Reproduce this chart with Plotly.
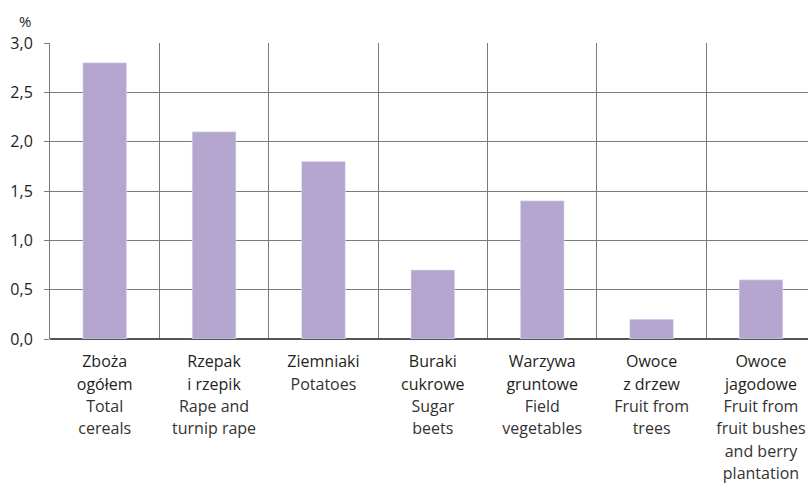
import plotly.graph_objects as go

categories_pl = ["Zboża<br>ogółem", "Rzepak<br>i rzepik", "Ziemniaki", "Buraki<br>cukrowe",
                 "Warzywa<br>gruntowe", "Owoce<br>z drzew", "Owoce<br>jagodowe"]
categories_en = ["Total<br>cereals", "Rape and<br>turnip rape", "Potatoes", "Sugar<br>beets",
                 "Field<br>vegetables", "Fruit from<br>trees", "Fruit from<br>fruit bushes<br>and berry<br>plantation"]
values = [2.8, 2.1, 1.8, 0.7, 1.4, 0.2, 0.6]
y_ticks = [0.0, 0.5, 1.0, 1.5, 2.0, 2.5, 3.0]

x = list(range(len(values)))

def wrap(txt, color):
    return "<br>".join(f"<span style='font-size:16px;color:{color}'>{l}</span>" for l in txt.split("<br>"))

ticktext = [wrap(p, "#231f20") + "<br>" + wrap(e, "#333333") for p, e in zip(categories_pl, categories_en)]

fig = go.Figure(go.Bar(x=x, y=values, marker_color="#b5a6d0", width=0.4))

grid = "#7a7a7a"
FONT = "Open Sans"
fig.update_layout(
    width=808, height=487,
    margin=dict(l=50, r=0, t=43, b=148, autoexpand=False),
    paper_bgcolor="white", plot_bgcolor="white",
    separators=",.",
    font=dict(family=FONT, color="#231f20"),
    showlegend=False,
    annotations=[dict(text="%", xref="paper", yref="paper", x=-0.044, y=1.035,
                      xanchor="left", yanchor="bottom", showarrow=False,
                      font=dict(size=15, family=FONT, color="#231f20"))],
)
fig.update_xaxes(
    range=[-0.5, 6.43], tickmode="array", tickvals=x, ticktext=ticktext,
    tickfont=dict(size=17.2, family=FONT), showgrid=False, ticks="",
    showline=False, zeroline=False, automargin=False, ticklabelstandoff=10,
    minor=dict(tick0=0.5, dtick=1, showgrid=True, gridcolor=grid, gridwidth=1),
)
fig.update_yaxes(
    range=[0, 3], tickmode="array", tickvals=y_ticks, tickformat=".1f",
    tickfont=dict(size=16, family=FONT, color="#231f20"),
    showgrid=True, gridcolor=grid, gridwidth=1, automargin=False,
    ticks="outside", ticklen=5, tickcolor=grid, ticklabelstandoff=8,
    showline=True, linecolor=grid, linewidth=1, zeroline=True, zerolinecolor="#555555",
    zerolinewidth=1.5,
)
fig.write_html("out.html", config={"displayModeBar": False},
               post_script="document.body.style.margin='0';document.body.style.overflow='hidden';")
